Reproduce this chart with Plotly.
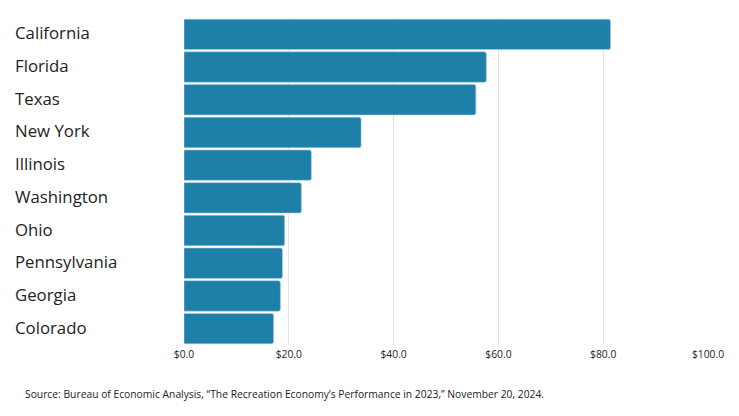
import plotly.graph_objects as go

states = ["California", "Florida", "Texas", "New York", "Illinois", "Washington",
          "Ohio", "Pennsylvania", "Georgia", "Colorado"]
values = [81.4, 57.7, 55.7, 33.8, 24.3, 22.4, 19.2, 18.8, 18.4, 17.1]
tick_vals = [0, 20, 40, 60, 80, 100]
tick_text = ["$0.0", "$20.0", "$40.0", "$60.0", "$80.0", "$100.0"]
source_text = "Source: Bureau of Economic Analysis, \u201cThe Recreation Economy\u2019s Performance in 2023,\u201d November 20, 2024."

W, H = 739, 416
L, R = 183.5, 708.0
T, B = 18, 345
PW, PH = R - L, B - T

fig = go.Figure(go.Bar(
    x=values, y=states, orientation="h",
    marker=dict(color="#1e7fa9", line=dict(color="#a9cfe0", width=0.6), cornerradius=2),
    hoverinfo="x+y",
))

annotations = []
for s in states:
    annotations.append(dict(
        x=(12 - L) / PW, xref="paper", y=s, yref="y", text=s, showarrow=False,
        xanchor="left", yanchor="middle", yshift=1.5,
        font=dict(family="Open Sans", size=16.8, color="#222222"),
    ))
annotations.append(dict(
    x=(22 - L) / PW, xref="paper", y=-(394 - B) / PH, yref="paper",
    text=source_text, showarrow=False, xanchor="left", yanchor="middle",
    font=dict(family="Open Sans", size=10.3, color="#222222"),
))

fig.update_layout(
    width=W, height=H,
    margin=dict(l=L, r=W - R, t=T, b=H - B, pad=0, autoexpand=False),
    paper_bgcolor="white", plot_bgcolor="white",
    showlegend=False,
    bargap=0.07,
    font=dict(family="Open Sans", color="#222222"),
    xaxis=dict(
        range=[0, 100], automargin=False,
        tickmode="array", tickvals=tick_vals, ticktext=tick_text,
        showgrid=True, gridcolor="#e4e4e4", gridwidth=1,
        zeroline=False, showline=False, ticks="", ticklabelstandoff=2,
        tickfont=dict(family="Open Sans", size=10.3, color="#222222"),
    ),
    yaxis=dict(
        categoryorder="array", categoryarray=states, autorange="reversed",
        automargin=False,
        showticklabels=False, showgrid=False, zeroline=False, ticks="",
    ),
    annotations=annotations,
)

fig.write_html("out.html", config={"displayModeBar": False},
               post_script="document.body.style.margin='0';document.body.style.padding='0';")
